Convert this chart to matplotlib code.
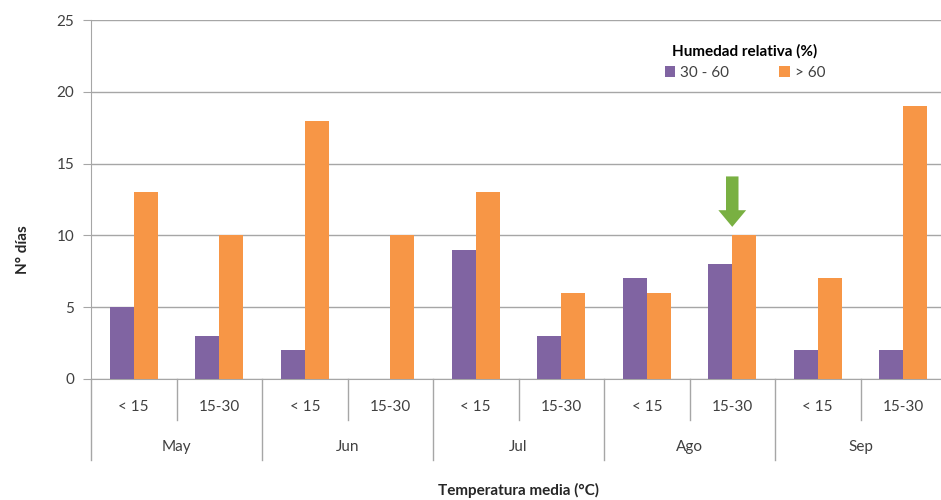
import matplotlib.pyplot as plt
import matplotlib.transforms as mtransforms
import numpy as np

months = ['May', 'Jun', 'Jul', 'Ago', 'Sep']
temp_cats = ['< 15', '15-30']
hum_30_60 = [5, 3, 2, 0, 9, 3, 7, 8, 2, 2]
hum_60 = [13, 10, 18, 10, 13, 6, 6, 10, 7, 19]

plt.rcParams['font.family'] = ['Lato', 'DejaVu Sans']

fig = plt.figure(figsize=(9.41, 5), dpi=100)
ax = fig.add_axes([91 / 941, 121 / 500, 855 / 941, 359 / 500])

x = np.arange(len(hum_60))
w = 0.28
ax.bar(x - w / 2, hum_30_60, w, color='#8064a2', label='30 - 60', zorder=3)
ax.bar(x + w / 2, hum_60, w, color='#f79646', label='> 60', zorder=3)

ax.set_xlim(-0.5, len(x) - 0.5)
ax.set_ylim(0, 25)
ax.set_yticks([0, 5, 10, 15, 20, 25])
ax.yaxis.grid(True, color='#a6a6a6', linewidth=1, zorder=0)
ax.tick_params(axis='y', length=6, pad=6, color='#a6a6a6', labelsize=11, labelcolor='#404040')
ax.set_xticks([])
for s in ['top', 'right']:
    ax.spines[s].set_visible(False)
for s in ['left', 'bottom']:
    ax.spines[s].set_color('#a6a6a6')

# two-level category axis
trans = mtransforms.blended_transform_factory(ax.transData, ax.transAxes)
for i in range(len(x)):
    ax.text(i, -0.078, temp_cats[i % 2], transform=trans, ha='center', va='center',
            fontsize=11, color='#404040')
for m, name in enumerate(months):
    ax.text(2 * m + 0.5, -0.189, name, transform=trans, ha='center', va='center',
            fontsize=11, color='#404040')
for i in range(len(x) + 1):
    y_end = -0.226 if i % 2 == 0 else -0.114
    ax.plot([i - 0.5, i - 0.5], [0, y_end], transform=trans, color='#a6a6a6',
            linewidth=1, clip_on=False)

ax.set_ylabel('N° días', fontsize=11, fontweight='bold', color='#262626')
ax.yaxis.set_label_coords(30 / 941, 0.5, transform=fig.transFigure)
fig.text(0.5 * (91 + 946) / 941, 0.02, 'Temperatura media (°C)', ha='center', va='center',
         fontsize=11, fontweight='bold', color='#262626')

leg = ax.legend(loc='upper center', bbox_to_anchor=(745 / 941, 1 - 30 / 500),
                bbox_transform=fig.transFigure, ncol=2, frameon=False,
                title='Humedad relativa (%)', fontsize=11, handlelength=0.7,
                handleheight=0.7, columnspacing=3.3, handletextpad=0.3)
leg.get_title().set_fontweight('bold')
leg.get_title().set_fontsize(11)
for t in leg.get_texts():
    t.set_color('#404040')

ax.annotate('', xy=(7, 10.4), xytext=(7, 14.3),
            arrowprops=dict(arrowstyle='simple,head_width=1.0,head_length=0.6,tail_width=0.45',
                            mutation_scale=20, color='#79b042', lw=0), zorder=4)

fig.savefig('out.png', dpi=100)
